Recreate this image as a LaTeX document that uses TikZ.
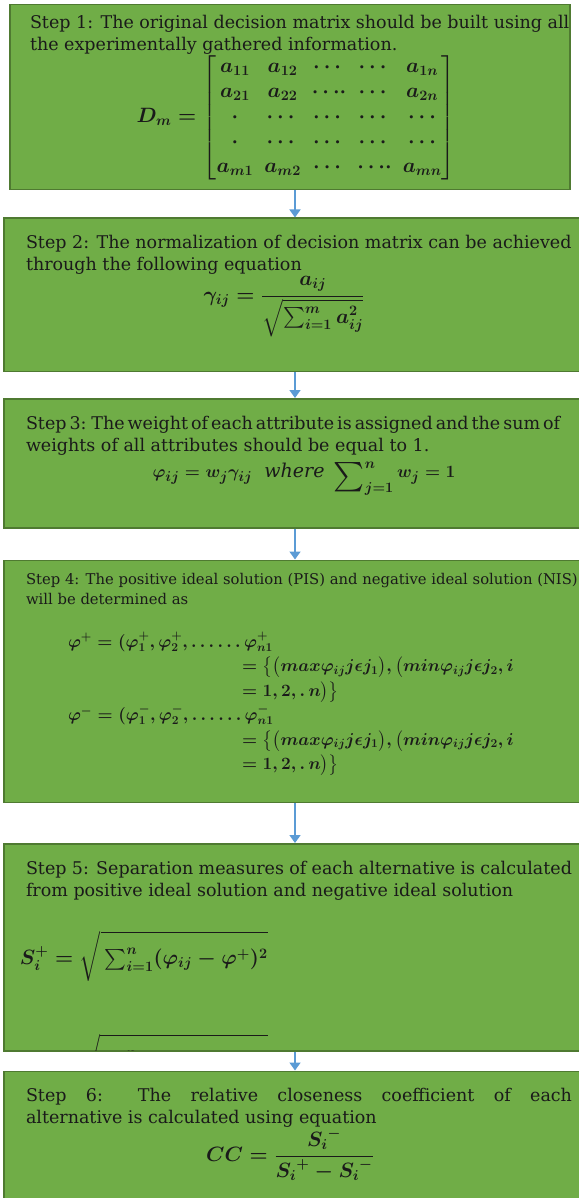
\documentclass[tikz,border=0pt]{standalone}
\usepackage{amsmath}
\usepackage{exscale}
\usepackage{graphicx}
\usepackage{fontspec}
\setmainfont{DejaVu Serif}
\usetikzlibrary{positioning, arrows.meta}
\definecolor{stepgreen}{HTML}{70AD47}
\definecolor{stepedge}{HTML}{4F7A31}
\definecolor{flowblue}{HTML}{5B9BD5}
\definecolor{inktext}{HTML}{1A1A1A}
\newcommand{\boxbody}[3]{\parbox[c][#1][t]{#2}{#3}}
\newcommand{\fsz}[1]{\fontsize{#1}{#1}\selectfont}
\newcommand{\bigsum}{\mathop{\raisebox{-7pt}{\scalebox{1.7}{$\sum$}}}\nolimits}

\begin{document}
\begin{tikzpicture}[x=1pt, y=1pt,
  stepbox/.style={rectangle, draw=stepedge, line width=1.5pt, fill=stepgreen, text=inktext, inner xsep=22pt, inner ysep=0pt, font=\fontsize{17.5}{22}\selectfont\boldmath},
  arrow/.style={-{Triangle[width=11pt,length=8pt]}, line width=1.6pt, color=flowblue}
]
\useasboundingbox (0,0) rectangle (578,-1198);
\coordinate (spine) at (295,0);

% step 1: decision matrix
\node[stepbox, inner xsep=5pt, anchor=north] (s1) at (290,-4) {\boxbody{185pt}{550pt}{%
  \vspace*{10pt}\leftskip=15pt
  \mbox{Step 1: The original decision matrix should be built using all}\\
  the experimentally gathered information.\par
  {\centering\fsz{20}\setlength{\arraycolsep}{5.5pt}\renewcommand{\arraystretch}{1.25}%
  \hspace*{12pt}$D_m=\begin{bmatrix}
    a_{11} & a_{12} & \cdots & \cdots & a_{1n}\\
    a_{21} & a_{22} & \cdots\!\cdot & \cdots & a_{2n}\\
    \cdot & \cdots & \cdots & \cdots & \cdots\\
    \cdot & \cdots & \cdots & \cdots & \cdots\\
    a_{m1} & a_{m2} & \cdots & \cdots\!\cdot & a_{mn}
  \end{bmatrix}$\par}}};

% step 2: normalization
\node[stepbox, below=27pt of s1, xshift=9pt] (s2) {\boxbody{153pt}{546pt}{%
  \vspace*{17pt}\mbox{Step 2: The normalization of decision matrix can be achieved}\\
  through the following equation\par
  \vspace{1pt}{\centering\fsz{20}\hspace*{-30pt}$\gamma_{ij}=\dfrac{a_{ij}}{\sqrt{\sum\nolimits_{i=1}^{m}a_{ij}^{2}}}$\par}}};

% step 3: weights
\node[stepbox, below=26pt of s2] (s3) {\boxbody{129pt}{546pt}{%
  \vspace*{17pt}\mbox{\spaceskip=0.17em plus 0.05em\relax Step 3: The weight of each attribute is assigned and the sum of}\\
  weights of all attributes should be equal to 1.\par
  \vspace{6pt}{\centering\fsz{19}\hspace*{10pt}$\varphi_{ij}=w_j\gamma_{ij}\ \ \textit{where}\ \bigsum_{j=1}^{n}w_j=1$\par}}};

% step 4: PIS and NIS
\node[stepbox, below=31pt of s3, font=\fontsize{14.8}{20}\selectfont\boldmath] (s4) {\boxbody{242pt}{546pt}{%
  \vspace*{13pt}\mbox{Step 4: The positive ideal solution (PIS) and negative ideal solution (NIS)}\\
  will be determined as\par
  \vspace{18pt}\fsz{17.5}\baselineskip=24.5pt
  \hspace*{42pt}$\varphi^{+}=(\varphi_1^{+},\varphi_2^{+},\ldots\ldots\varphi_{n1}^{+}$\\
  \hspace*{216pt}$=\bigl\{\bigl(max\varphi_{ij}j\epsilon j_1\bigr),\bigl(min\varphi_{ij}j\epsilon j_2,i$\\
  \hspace*{216pt}$=1,2,.\,n\bigr)\bigr\}$\\
  \hspace*{42pt}$\varphi^{-}=(\varphi_1^{-},\varphi_2^{-},\ldots\ldots\varphi_{n1}^{-}$\\
  \hspace*{216pt}$=\bigl\{\bigl(max\varphi_{ij}j\epsilon j_1\bigr),\bigl(min\varphi_{ij}j\epsilon j_2,i$\\
  \hspace*{216pt}$=1,2,.\,n\bigr)\bigr\}$\par}};

% step 5: separation measures
\node[stepbox, below=40pt of s4] (s5) {\boxbody{207pt}{546pt}{%
  \vspace*{17pt}Step 5: Separation measures of each alternative is calculated\linebreak
  from positive ideal solution and negative ideal solution\par
  \vspace{30pt}\fsz{21}\hspace*{-6pt}$S_i^{+}=\sqrt{\rule[-13pt]{0pt}{40pt}\sum\nolimits_{i=1}^{n}(\varphi_{ij}-\varphi^{+})^{2}}$\par}};
\begin{scope}
  \clip ([yshift=1pt]s5.south west) rectangle (s5.north east);
  \node[anchor=north west, inner sep=0pt, text=inktext, font=\fsz{21}\boldmath] (s5minus) at ([xshift=16pt, yshift=18pt]s5.south west)
    {$S_i^{-}=\sqrt{\rule[-13pt]{0pt}{40pt}\sum\nolimits_{i=1}^{n}(\varphi_{ij}-\varphi^{-})^{2}}$};
\end{scope}

% step 6: closeness coefficient
\node[stepbox, below=19pt of s5] (s6) {\boxbody{133pt}{546pt}{%
  \vspace*{17pt}Step 6: The relative closeness coefficient of each\linebreak
  alternative is calculated using equation\par
  {\centering\fsz{21}\hspace*{-18pt}$CC=\dfrac{{S_i}^{-}}{{S_i}^{+}-{S_i}^{-}}$\par}}};

\foreach \a/\b in {s1/s2, s2/s3, s3/s4, s4/s5, s5/s6}
  \draw[arrow] (spine |- \a.south) -- (spine |- \b.north);
\end{tikzpicture}
\end{document}
